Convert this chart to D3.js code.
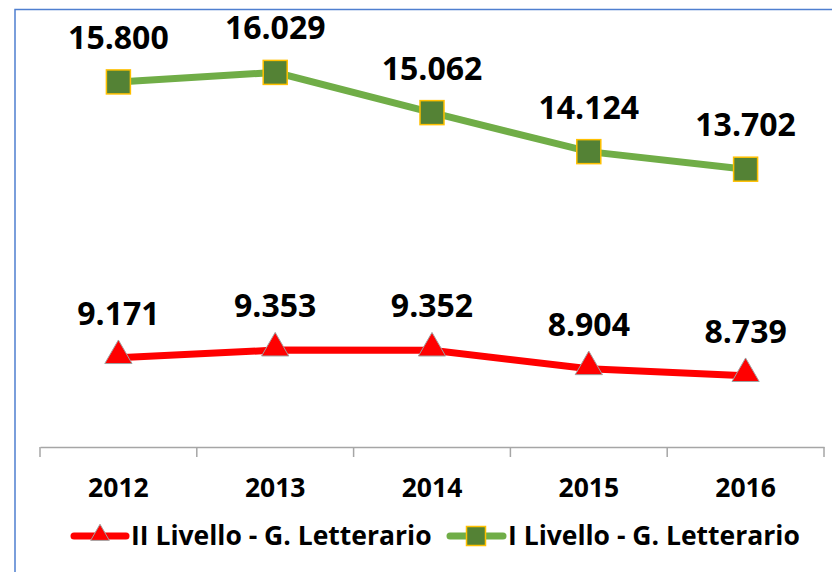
<!DOCTYPE html>
<html>
<head>
<meta charset="utf-8">
<title>Livello - G. Letterario</title>
<script src="https://d3js.org/d3.v7.min.js"></script>
<style>
  body { margin: 0; background: #fff; }
  text { font-family: "Open Sans", "Liberation Sans", sans-serif; font-weight: bold; fill: #000; }
</style>
</head>
<body>
<svg id="chart" width="832" height="572"></svg>
<script>
// data
var years = ["2012", "2013", "2014", "2015", "2016"];
var livello2 = [9171, 9353, 9352, 8904, 8739];
var livello1 = [15800, 16029, 15062, 14124, 13702];
var seriesNames = ["II Livello - G. Letterario", "I Livello - G. Letterario"];

var svg = d3.select("#chart");

// frame (only top/left edges show in the picture)
svg.append("rect")
    .attr("x", 15).attr("y", 9.5)
    .attr("width", 900).attr("height", 700)
    .attr("fill", "none")
    .attr("stroke", "#4f7fd0")
    .attr("stroke-width", 1.5);

var x = d3.scaleBand().domain(years).range([40, 824]);
var y = d3.scaleLinear().domain([7000, 17000]).range([448, 32]);

var fmt = d3.formatLocale({ decimal: ",", thousands: ".", grouping: [3], currency: ["€", ""] }).format(",.0f");

// x axis
var axis = svg.append("g")
    .attr("transform", "translate(0,447)")
    .call(d3.axisBottom(x).tickSize(0).tickPadding(0));
axis.select(".domain").attr("stroke", "#a6a6a6").attr("stroke-width", 1.5);
axis.selectAll("text").style("font-size", "26.5px").attr("dy", null).attr("y", 50);

// tick marks between categories
svg.append("g").selectAll("line")
    .data(d3.range(years.length + 1))
    .enter().append("line")
    .attr("x1", function (i) { return 40 + i * x.step(); })
    .attr("x2", function (i) { return 40 + i * x.step(); })
    .attr("y1", 447).attr("y2", 457)
    .attr("stroke", "#a6a6a6").attr("stroke-width", 1.5);

var cx = function (d, i) { return x(years[i]) + x.bandwidth() / 2; };

var line = d3.line()
    .x(function (d, i) { return cx(d, i); })
    .y(function (d) { return y(d); });

var tri = d3.symbol().type(d3.symbolTriangle).size(320);

// red series
svg.append("path").datum(livello2)
    .attr("d", line)
    .attr("fill", "none").attr("stroke", "#ff0000").attr("stroke-width", 7);
svg.append("g").selectAll("path")
    .data(livello2)
    .enter().append("path")
    .attr("d", tri)
    .attr("transform", function (d, i) { return "translate(" + cx(d, i) + "," + (y(d) - 2) + ")"; })
    .attr("fill", "#ff0000").attr("stroke", "#a0a0a0").attr("stroke-width", 1);

// green series
svg.append("path").datum(livello1)
    .attr("d", line)
    .attr("fill", "none").attr("stroke", "#70ad47").attr("stroke-width", 7);
svg.append("g").selectAll("rect")
    .data(livello1)
    .enter().append("rect")
    .attr("x", function (d, i) { return cx(d, i) - 12; })
    .attr("y", function (d) { return y(d) - 12; })
    .attr("width", 24).attr("height", 24)
    .attr("fill", "#548235").attr("stroke", "#ffc000").attr("stroke-width", 1.5);

// data labels
[livello2, livello1].forEach(function (s) {
    svg.append("g").selectAll("text")
        .data(s)
        .enter().append("text")
        .attr("x", function (d, i) { return cx(d, i); })
        .attr("y", function (d) { return y(d) - 33; })
        .attr("text-anchor", "middle")
        .style("font-size", "32px")
        .text(function (d) { return fmt(d); });
});

// legend
var leg = svg.append("g").attr("transform", "translate(0,536)");
leg.append("line").attr("x1", 74).attr("x2", 126).attr("y1", 0).attr("y2", 0)
    .attr("stroke", "#ff0000").attr("stroke-width", 7).attr("stroke-linecap", "round");
leg.append("path").attr("d", d3.symbol().type(d3.symbolTriangle).size(150)).attr("transform", "translate(100,-1)")
    .attr("fill", "#ff0000").attr("stroke", "#a0a0a0").attr("stroke-width", 1);
leg.append("text").attr("x", 131).attr("y", 9).style("font-size", "26.5px").text(seriesNames[0]);

leg.append("line").attr("x1", 450).attr("x2", 503).attr("y1", 0).attr("y2", 0)
    .attr("stroke", "#70ad47").attr("stroke-width", 7).attr("stroke-linecap", "round");
leg.append("rect").attr("x", 466.5).attr("y", -9.5).attr("width", 19).attr("height", 19)
    .attr("fill", "#548235").attr("stroke", "#ffc000").attr("stroke-width", 1.5);
leg.append("text").attr("x", 508).attr("y", 9).style("font-size", "26.5px").text(seriesNames[1]);
</script>
</body>
</html>
